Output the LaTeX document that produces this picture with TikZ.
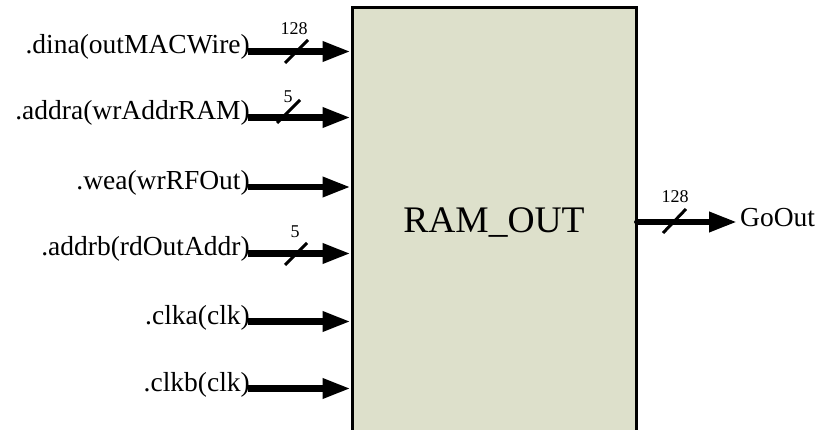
\documentclass[tikz,border=0pt]{standalone}
\usepackage{fontspec}
\setmainfont{Liberation Serif}
\usepackage{xcolor}
\usepackage{tikz}
\usetikzlibrary{arrows.meta,calc,positioning}
\definecolor{blockfill}{RGB}{221,224,203}
\tikzset{
  ramblock/.style={draw=black,line width=3pt,fill=blockfill},
  sig/.style={-{Triangle[length=28pt,width=19pt]},line width=6.5pt},
  busslash/.style={line width=3pt},
  portlabel/.style={font=\fontsize{27.5}{30}\selectfont,inner sep=0pt,anchor=base east},
  widthlabel/.style={font=\fontsize{18}{20}\selectfont,inner sep=0pt,anchor=base},
  blocklabel/.style={font=\fontsize{37.5}{40}\selectfont,inner sep=0pt,anchor=base}
}

\begin{document}
\begin{tikzpicture}[x=1pt,y=-1pt]
  \useasboundingbox (0,0) rectangle (822,430);
  \clip (0,0) rectangle (822,430);
  % the memory block, open at the bottom
  \draw[ramblock] (352,7.5) rectangle (636,450);
  \node[blocklabel] (ramname) at (494,233) {RAM\_OUT};
  % input ports
  \foreach \y/\txt/\name in {51.5/.dina(outMACWire)/dina,
      117.5/.addra(wrAddrRAM)/addra,
      187/.wea(wrRFOut)/wea,
      253.5/.addrb(rdOutAddr)/addrb,
      321.5/.clka(clk)/clka,
      388.5/.clkb(clk)/clkb}{
    \coordinate (\name pin) at (350.5,\y);
    \node[portlabel] (\name) at (250,\y+2.5) {\txt};
    \draw[sig] (\name pin -| \name.east) ++(-2,0) -- (\name pin);
  }
  % bus widths
  \draw[busslash] (285,63) -- ++(23,-23);
  \node[widthlabel] (dinawidth) at (294,35) {128};
  \draw[busslash] (277,123) -- ++(23,-23);
  \node[widthlabel] (addrawidth) at (288,103) {5};
  \draw[busslash] (285,265) -- ++(22,-22);
  \node[widthlabel] (addrbwidth) at (295,238) {5};
  % output port
  \coordinate (outpin) at (636,222);
  \node[portlabel,anchor=base west] (goout) at (740,226.5) {GoOut};
  \coordinate (outtip) at ($(goout.west |- outpin)+(-3,0)$);
  \fill (outpin) circle (2pt);
  \draw[sig] (outpin) -- (outtip);
  \draw[busslash] (663,233) -- ++(23,-24);
  \node[widthlabel] (outwidth) at (675,203) {128};
\end{tikzpicture}
\end{document}
